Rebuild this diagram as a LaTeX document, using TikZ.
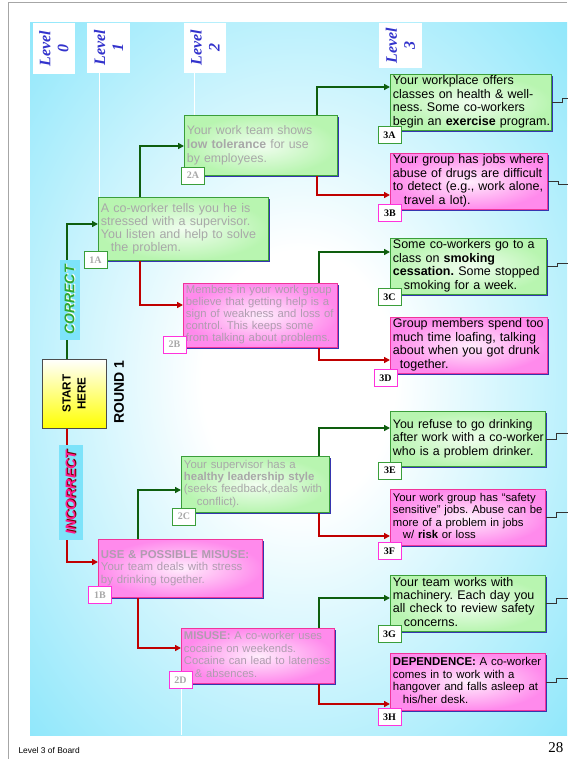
\documentclass[tikz,border=0pt]{standalone}
\usepackage{fontspec}
\setmainfont{Liberation Sans}
\newfontfamily\timesfont{Liberation Serif}
\usetikzlibrary{arrows.meta,shadows}

\definecolor{bgcyan}{HTML}{7DE3FA}
\definecolor{lvlblue}{HTML}{3333CC}
\definecolor{boxgreen}{HTML}{B8F5B0}
\definecolor{edgegreen}{HTML}{3A9E3A}
\definecolor{boxpink}{HTML}{FF8AEC}
\definecolor{edgepink}{HTML}{F0359A}
\definecolor{tagpink}{HTML}{FF33DD}
\definecolor{shadowblue}{HTML}{3535B0}
\definecolor{fadetext}{HTML}{A8A8A8}
\definecolor{fadepink}{HTML}{B09CB0}
\definecolor{yesgreen}{HTML}{0E5E0E}
\definecolor{nored}{HTML}{C00000}
\definecolor{okgreen}{HTML}{2FA82F}
\definecolor{badpink}{HTML}{FF1A8C}

\pgfdeclareradialshading{boardglow}{\pgfpoint{0bp}{0bp}}{color(0bp)=(white); color(9bp)=(white); color(40bp)=(bgcyan); color(50bp)=(bgcyan)}

% raised copy of a word behind itself
\newcommand\embossed[2]{\makebox[0pt][l]{\kern0.9pt\raisebox{-0.9pt}{\textcolor{#1}{#2}}}#2}
% card lines, never rebroken
\newcommand\cardtext[1]{\begin{tabular}{@{}l@{}}#1\end{tabular}}

\tikzset{
  card/.style={draw, line width=0.9pt, anchor=north west, align=left, inner xsep=2.5pt, inner ysep=0pt,
    drop shadow={shadow xshift=1.8pt, shadow yshift=-1.8pt, fill=shadowblue, opacity=1}},
  okcard/.style={card, draw=edgegreen, inner color=boxgreen!20!white, outer color=boxgreen},
  badcard/.style={card, draw=edgepink, inner color=boxpink!15!white, outer color=boxpink},
  dims/.style n args={3}{minimum width=#1pt, minimum height=#2pt, text width=#3pt},
  fs/.style 2 args={font=\fontsize{#1}{#2}\selectfont},
  tag/.style={draw, fill=white, line width=0.9pt, minimum width=23pt, minimum height=17pt, inner sep=0pt,
    font=\timesfont\bfseries\fontsize{10}{10}\selectfont},
  okpath/.style={draw=yesgreen, line width=1.8pt, -{Triangle[length=6pt,width=6pt]}},
  badpath/.style={draw=nored, line width=1.8pt, -{Triangle[length=6pt,width=6pt]}},
  stub/.style={draw=black!80, line width=0.8pt},
  lvl/.style={fill=white, rotate=90, inner sep=0pt, align=center, text=lvlblue,
    font=\timesfont\bfseries\itshape\fontsize{16}{18}\selectfont},
  lvlline/.style={draw=white, line width=0.8pt},
  answer/.style={rotate=90, inner sep=0pt, fill=bgcyan, font=\bfseries\itshape\fontsize{14}{14}\selectfont}
}

\begin{document}
\frenchspacing
\begin{tikzpicture}[x=1pt, y=-1pt]
  \useasboundingbox (0,0) rectangle (567,759);
  % board
  \shade[shading=boardglow] (30,23) rectangle (567,735);
  \draw[gray!70, line width=1pt] (567,3) -- (8,3) -- (8,759);

  % level headers
  \foreach \n/\cx/\cy/\w/\h in {0/54/48.5/42/51, 1/108.5/48/43/50, 2/205/48/42/50, 3/400.5/45.5/43/45}
    \node[lvl, minimum width=\h pt, minimum height=\w pt] (lvl\n) at (\cx,\cy) {Level\\\n};

  % cards
  \node[okcard, dims={170}{63}{165}, fs={12.5}{13}, text=fadetext] (1A) at (98,197)
    {\cardtext{A co-worker tells you he is\\ stressed with a supervisor.\\ You listen and help to solve\\ \hspace*{10pt}the problem.}};
  \node[badcard, dims={164}{58}{159}, fs={11.4}{12.5}, text=fadepink] (1B) at (98,539)
    {\cardtext{\textbf{USE \& POSSIBLE MISUSE:}\\ Your team deals with stress\\ by drinking together.}};
  \node[okcard, dims={153}{60}{148}, fs={12.3}{14}, text=fadetext] (2A) at (184,115)
    {\cardtext{Your work team shows\\ \textbf{low tolerance} for use\\ by employees.}};
  \node[badcard, dims={154}{64}{149}, fs={11.3}{12}, text=fadepink] (2B) at (183,283)
    {\cardtext{Members in your work group\\ believe that getting help is a\\ sign of weakness and loss of\\ control. This keeps some\\ from talking about problems.}};
  \node[okcard, dims={148}{56}{143}, fs={11.4}{12.2}, text=fadetext] (2C) at (181,456)
    {\cardtext{Your supervisor has a\\ \textbf{healthy leadership style}\\ (seeks feedback,deals with\\ \hspace*{13pt}conflict).}};
  \node[badcard, dims={153}{55}{148}, fs={11.2}{12.4}, text=fadepink] (2D) at (181,628)
    {\cardtext{\textbf{MISUSE:} A co-worker uses\\ cocaine on weekends.\\ Cocaine can lead to lateness\\ \hspace*{11pt}\& absences.}};
  \node[okcard, dims={161}{56}{156}, fs={12.5}{13.5}] (3A) at (390,74)
    {\cardtext{Your workplace offers\\ classes on health \& well-\\ ness. Some co-workers\\ begin an \textbf{exercise} program.}};
  \node[badcard, dims={157}{56}{152}, fs={12.5}{13.5}] (3B) at (390,153)
    {\cardtext{Your group has jobs where\\ abuse of drugs are difficult\\ to detect (e.g., work alone,\\ \hspace*{11pt}travel a lot).}};
  \node[okcard, dims={156}{56}{151}, fs={12.5}{13.5}] (3C) at (390,238)
    {\cardtext{Some co-workers go to a\\ class on \textbf{smoking}\\ \textbf{cessation.} Some stopped\\ \hspace*{11pt}smoking for a week.}};
  \node[badcard, dims={157}{56}{152}, fs={12.5}{13.5}] (3D) at (390,317)
    {\cardtext{Group members spend too\\ much time loafing, talking\\ about when you got drunk\\ \hspace*{7pt}together.}};
  \node[okcard, dims={155}{55}{150}, fs={12.4}{13.5}] (3E) at (390,411)
    {\cardtext{You refuse to go drinking\\ after work with a co-worker\\ who is a problem drinker.}};
  \node[badcard, dims={155}{56}{150}, fs={11.3}{12.5}] (3F) at (390,489)
    {\cardtext{Your work group has “safety\\ sensitive” jobs. Abuse can be\\ more of a problem in jobs\\ \hspace*{10pt}w/ \textbf{risk} or loss}};
  \node[okcard, dims={155}{56}{150}, fs={12.5}{13.3}] (3G) at (390,575)
    {\cardtext{Your team works with\\ machinery. Each day you\\ all check to review safety\\ \hspace*{11pt}concerns.}};
  \node[badcard, dims={155}{57}{150}, fs={11.4}{12.4}] (3H) at (390,653)
    {\cardtext{\textbf{DEPENDENCE:} A co-worker\\ comes in to work with a\\ hangover and falls asleep at\\ \hspace*{10pt}his/her desk.}};

  % start
  \node[draw=black!70, line width=1pt, rotate=90, minimum width=69pt, minimum height=64pt, inner sep=0pt,
    top color=white, bottom color=yellow, align=center, font=\bfseries\fontsize{11.7}{15}\selectfont]
    (start) at (74,393.5) {START\\HERE};
  \node[rotate=90, font=\bfseries\fontsize{14}{14}\selectfont] (round) at (119,392) {ROUND 1};

  % level lines
  \draw[lvlline] (99,0 |- lvl1.west) -- (99,0 |- 1A.north);
  \draw[lvlline] (194,0 |- lvl2.west) -- (194,0 |- 2A.north);
  \draw[lvlline] (181,688) -- (181,735);

  % branches
  \draw[okpath] (67,0 |- start.east) |- (1A.west |- 0,224);
  \draw[badpath] (67,0 |- start.west) |- (1B.west |- 0,562);
  \draw[okpath] (140,0 |- 1A.north) |- (2A.west |- 0,146);
  \draw[badpath] (140,0 |- 1A.south) |- (2B.west |- 0,305);
  \draw[okpath] (138,0 |- 1B.north) |- (2C.west |- 0,490);
  \draw[badpath] (138,0 |- 1B.south) |- (2D.west |- 0,648);
  \draw[okpath] (317,0 |- 2A.north) |- (3A.west |- 0,87);
  \draw[badpath] (317,0 |- 2A.south) |- (3B.west |- 0,195);
  \draw[okpath] (319,0 |- 2B.north) |- (3C.west |- 0,252);
  \draw[badpath] (319,0 |- 2B.south) |- (3D.west |- 0,360);
  \draw[okpath] (319,0 |- 2C.north) |- (3E.west |- 0,428);
  \draw[badpath] (319,0 |- 2C.south) |- (3F.west |- 0,536);
  \draw[okpath] (319,0 |- 2D.north) |- (3G.west |- 0,598);
  \draw[badpath] (319,0 |- 2D.south) |- (3H.west |- 0,704);

  % answer labels
  \node[answer, minimum width=80pt, minimum height=20pt, text=okgreen] (correct) at (70,300) {\embossed{white}{CORRECT}};
  \node[answer, minimum width=95pt, minimum height=24pt, text=badpink] (incorrect) at (71,492.5) {\embossed{red!45!black}{INCORRECT}};

  % tags
  \foreach \t/\x/\y/\e/\c in {1A/95.5/260/edgegreen/fadetext, 1B/100/595/tagpink/fadetext,
      2A/193/175.5/edgegreen/fadetext, 2B/174.5/344.5/tagpink/fadetext, 2C/184/516.5/edgegreen/fadetext,
      2D/180.5/680/tagpink/fadetext, 3A/389.5/135/edgegreen/black, 3B/390/213/tagpink/black,
      3C/389.5/297/edgegreen/black, 3D/385.5/378/tagpink/black, 3E/390/470.5/edgegreen/black,
      3F/389.5/551/tagpink/black, 3G/389.5/634/edgegreen/black, 3H/389.5/717/tagpink/black}
    \node[tag, draw=\e, text=\c] (tag\t) at (\x,\y) {\t};

  % links to the next board
  \foreach \b/\dy in {3A/-4, 3B/3, 3C/-3, 3E/-6, 3F/-5, 3G/-5, 3H/-4}
    \draw[stub] (\b.east) -- ++(10,0) -- ++(0,\dy) -- ++(20,0);

  % footer
  \node[anchor=west, font=\fontsize{8.4}{10}\selectfont] (footer) at (15,750) {Level 3 of Board};
  \node[anchor=east, font=\timesfont\fontsize{15}{15}\selectfont] (pagenum) at (567,748) {28};
\end{tikzpicture}
\end{document}
